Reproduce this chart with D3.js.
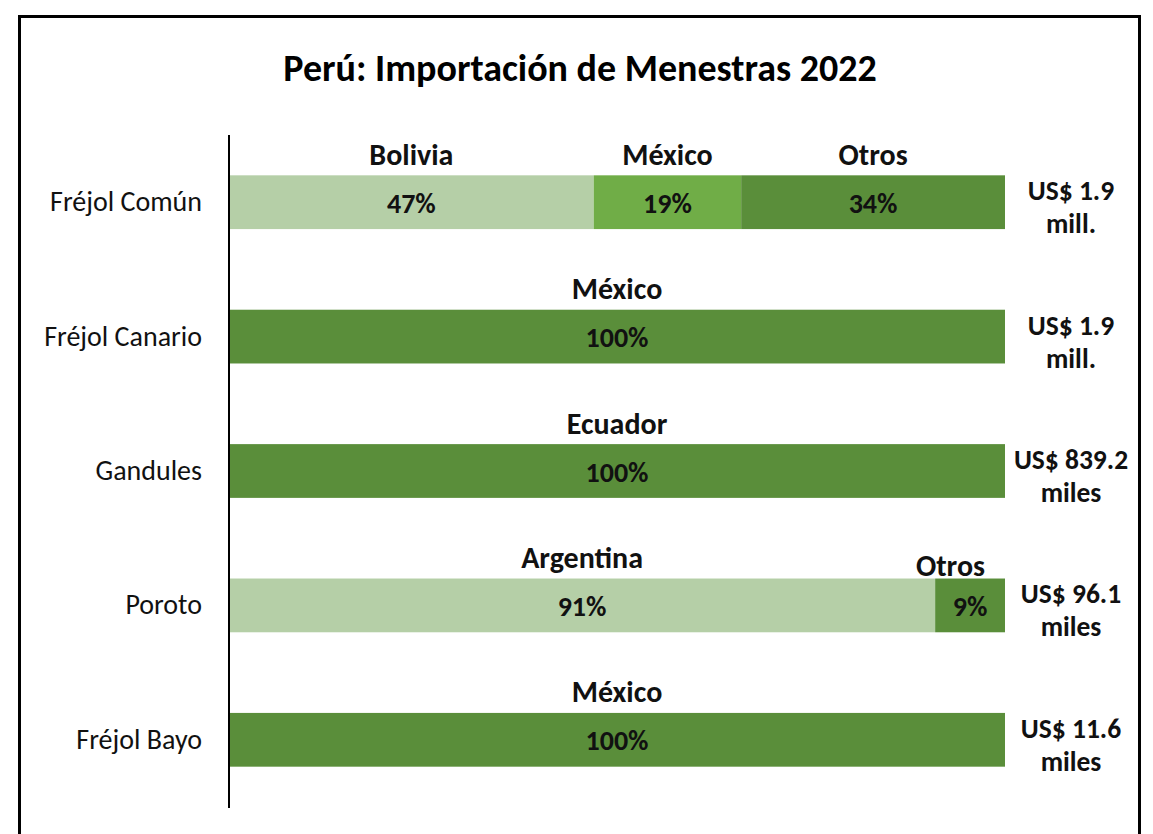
<!DOCTYPE html>
<html>
<head>
<meta charset="utf-8">
<script src="https://cdn.jsdelivr.net/npm/d3@7"></script>
<style>
  body { margin: 0; background: #fff; }
  svg { display: block; font-family: Calibri, Carlito, Lato, sans-serif; }
</style>
</head>
<body>
<svg id="chart" width="1153" height="834"></svg>
<script>
// data
const categories = ["Fréjol Común", "Fréjol Canario", "Gandules", "Poroto", "Fréjol Bayo"];
const countries = [["Bolivia", "México", "Otros"], ["México"], ["Ecuador"], ["Argentina", "Otros"], ["México"]];
const shares = [[47, 19, 34], [100], [100], [91, 9], [100]];
const totalAmounts = ["US$ 1.9", "US$ 1.9", "US$ 839.2", "US$ 96.1", "US$ 11.6"];
const totalUnits = ["mill.", "mill.", "miles", "miles", "miles"];

const colLight = "#b5cfa7", colMid = "#70ad47", colDark = "#5a8e3a";

const svg = d3.select("#chart");
const W = 1153, H = 834;
const margin = {left: 229, right: 148, top: 135, bottom: 27};

// frame
svg.append("rect").attr("x", 19.5).attr("y", 16.5).attr("width", 1120).attr("height", 830)
    .attr("fill", "none").attr("stroke", "#000").attr("stroke-width", 3);

svg.append("text").attr("x", 580).attr("y", 68).attr("text-anchor", "middle")
    .attr("dominant-baseline", "central")
    .style("font-size", "38px").style("font-weight", "bold").text("Perú: Importación de Menestras 2022");

const x = d3.scaleLinear().domain([0, 100]).range([margin.left, W - margin.right]);
const y = d3.scaleBand().domain(categories).range([margin.top, H - margin.bottom])
    .paddingInner(0.6).paddingOuter(0.3);

// stack the shares of each row
var rows = categories.map(function(c, i) {
  var acc = 0;
  return shares[i].map(function(v, j) {
    var seg = {cat: c, country: countries[i][j], v: v, x0: acc, x1: acc + v, j: j, n: shares[i].length};
    acc += v;
    return seg;
  });
});
var segs = rows.flat();

function segColor(d) {
  if (d.j == d.n - 1) return colDark;
  return d.j == 0 ? colLight : colMid;
}

const g = svg.append("g");
g.selectAll("rect.seg").data(segs).enter().append("rect").attr("class", "seg")
    .attr("x", function(d) { return x(d.x0); })
    .attr("y", function(d) { return y(d.cat); })
    .attr("width", function(d) { return x(d.x1) - x(d.x0); })
    .attr("height", y.bandwidth())
    .attr("fill", segColor);

// percent labels in the bar
g.selectAll("text.pct").data(segs).enter().append("text").attr("class", "pct")
    .attr("x", function(d) { return (x(d.x0) + x(d.x1)) / 2; })
    .attr("y", function(d) { return y(d.cat) + y.bandwidth() / 2 + 1; })
    .attr("text-anchor", "middle").attr("dominant-baseline", "central")
    .style("font-size", "28px").style("font-weight", "bold").attr("fill", "#111")
    .text(function(d) { return d.v + "%"; });

// country labels above each segment (narrow ones pushed right and lower, like excel does)
g.selectAll("text.ctry").data(segs).enter().append("text").attr("class", "ctry")
    .attr("x", function(d) {
      var w = x(d.x1) - x(d.x0);
      return w < 100 ? x(d.x1) - 20 : (x(d.x0) + x(d.x1)) / 2;
    })
    .attr("y", function(d) {
      var w = x(d.x1) - x(d.x0);
      return y(d.cat) - (w < 100 ? 13 : 21);
    })
    .attr("text-anchor", function(d) { return x(d.x1) - x(d.x0) < 100 ? "end" : "middle"; })
    .attr("dominant-baseline", "central")
    .style("font-size", "30px").style("font-weight", "bold").attr("fill", "#111")
    .text(function(d) { return d.country; });

// category axis
const yAxis = svg.append("g").attr("transform", `translate(${margin.left},0)`)
    .call(d3.axisLeft(y).tickSize(0).tickPadding(27));
yAxis.select(".domain").attr("stroke", "#000").attr("stroke-width", 2)
    .attr("d", `M0,${margin.top}V${H - margin.bottom + 1}`);
yAxis.selectAll("text").style("font-size", "28px").style("font-family", "Calibri, Carlito, Lato, sans-serif")
    .attr("fill", "#111");

// totals on the right
const tot = svg.append("g").selectAll("text").data(categories).enter().append("text")
    .attr("text-anchor", "middle").style("font-size", "27.5px").style("font-weight", "bold").attr("fill", "#111")
    .attr("y", function(c) { return y(c) + y.bandwidth() / 2 - 2; });
tot.append("tspan").attr("x", 1071).text(function(c, i) { return totalAmounts[i]; });
tot.append("tspan").attr("x", 1071).attr("dy", 33).text(function(c, i) { return totalUnits[i]; });
</script>
</body>
</html>
